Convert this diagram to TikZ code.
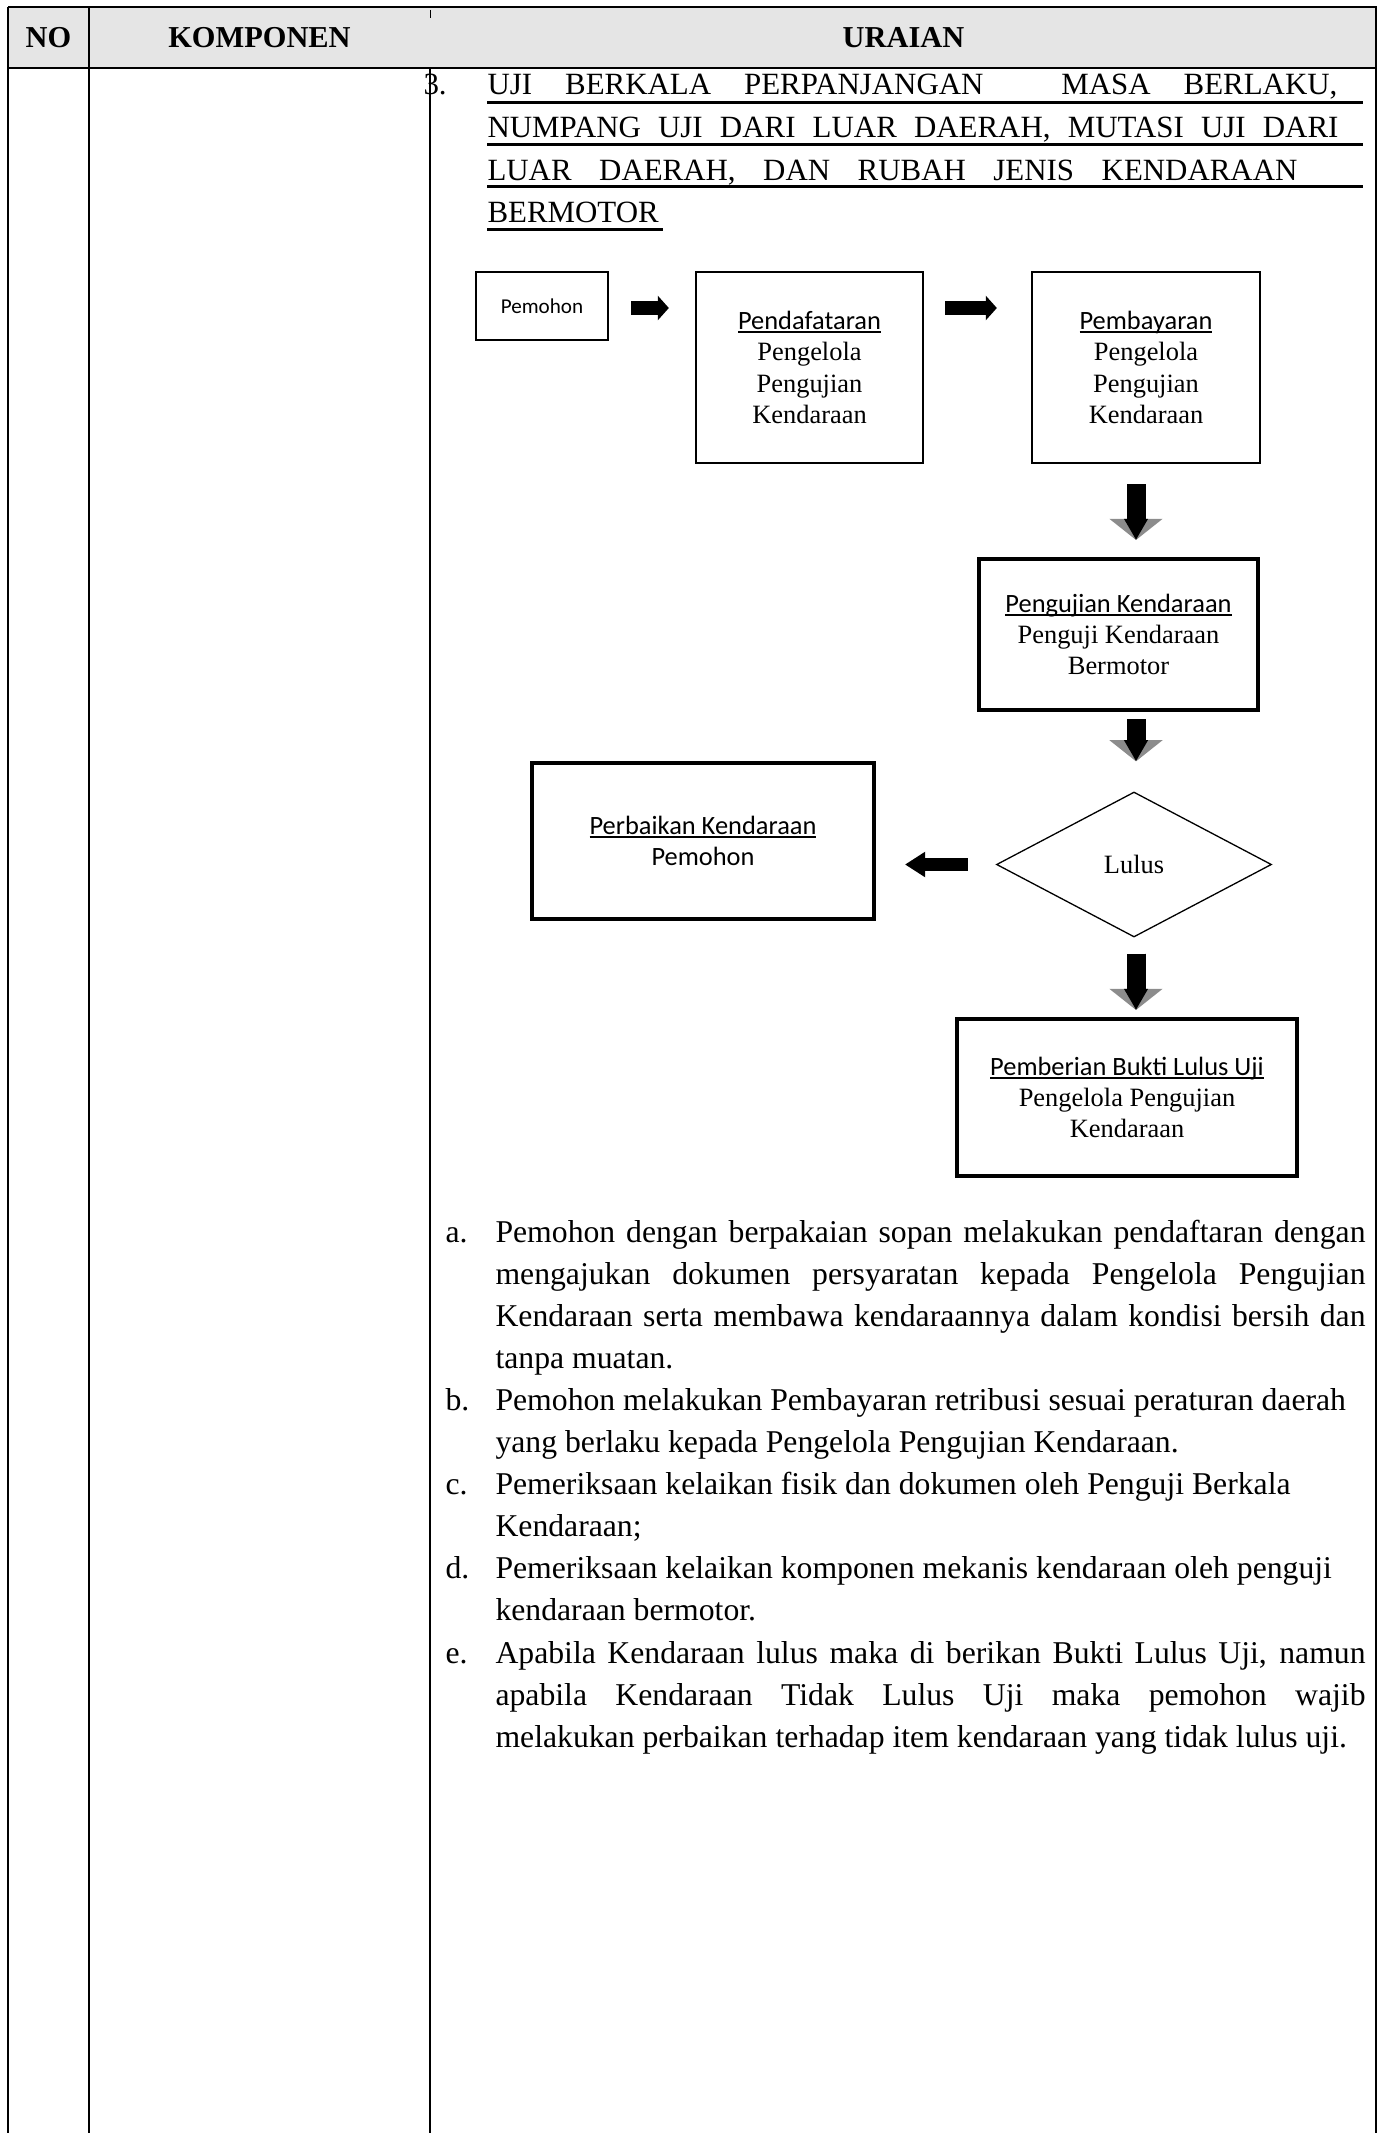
\documentclass[tikz,border=0pt]{standalone}
\usepackage{fontspec}
\setmainfont{Liberation Serif}
\newfontfamily\calibri{Carlito}
\usetikzlibrary{arrows.meta,shapes.geometric}
\newlength\px
\setlength\px{0.3785pt}
\newcommand\garis[1]{\setbox0\hbox{#1}\rlap{\rule[-1.5pt]{\wd0}{0.7pt}}\box0}
\newcommand\rata[1]{\makebox[870\px][s]{#1}}

\begin{document}
\begin{tikzpicture}[x=\px,y=-\px,
  tabel/.style={line width=2\px},
  kepala/.style={font=\fontsize{11.5}{13}\selectfont\bfseries},
  judul/.style={anchor=base west,inner sep=0pt,font=\fontsize{11.7}{14}\selectfont},
  isi/.style={anchor=base west,inner sep=0pt,font=\fontsize{12}{15.9}\selectfont},
  kotak/.style={draw,line width=2.3\px,align=center,inner sep=0pt,font=\fontsize{10}{11.9}\selectfont},
  tebal/.style={kotak,line width=4\px},
  kanan/.style={line width=5.3pt,-{Triangle[length=4.2pt,width=9.1pt]}},
  kiri/.style={line width=4.7pt,-{Triangle[length=7.6pt,width=9.1pt]}},
  turun/.style={line width=7.2pt,-{Triangle[length=8pt,width=19.7pt,color=black!45]},
    postaction={draw,line width=7.2pt,-{Triangle[length=8pt,width=8.5pt]}}}]
  \useasboundingbox(0,0)rectangle(1384,2133);
  \fill[black!10](8,7)rectangle(1377,68);
  \node[kepala](no)at(48.5,38){NO};
  \node[kepala](komponen)at(259.5,38){KOMPONEN};
  \node[kepala](uraian)at(903.5,38){URAIAN};
  \node[judul](nomor)at(423,95){3.};
  \node[judul](j1)at(487,95){\makebox[850\px][s]{UJI BERKALA PERPANJANGAN\hspace{45\px} MASA BERLAKU,}};
  \node[judul](j2)at(487,137.6){\makebox[851\px][s]{NUMPANG UJI DARI LUAR DAERAH, MUTASI UJI DARI}};
  \node[judul](j3)at(487,180.2){\makebox[810\px][s]{LUAR DAERAH, DAN RUBAH JENIS KENDARAAN}};
  \node[judul](j4)at(487,222.8){BERMOTOR};
  \foreach \y in {102.7,144.5,187}\draw[line width=3\px](487,\y)--(1363,\y);
  \draw[line width=3\px](487,229.5)--(663,229.5);
  \draw[tabel,line width=2.5\px](8,7)--(1377,7);
  \draw[tabel](8,68)--(1377,68);
  \draw[tabel](8,7)--(8,2133);
  \draw[tabel](89,7)--(89,2133);
  \draw[line width=1\px](430,10)--(430,18);
  \draw[tabel](430,68)--(430,2133);
  \draw[tabel](1376,7)--(1376,2133);
  \node[kotak,minimum width=132\px,minimum height=68\px,font=\fontsize{8}{10}\selectfont\calibri](pemohon)at(542,306){Pemohon};
  \node[kotak,minimum width=227\px,minimum height=191\px](daftar)at(809.5,367.5){{\calibri\garis{Pendafataran}}\\Pengelola\\Pengujian\\Kendaraan};
  \node[kotak,minimum width=228\px,minimum height=191\px](bayar)at(1146,367.5){{\calibri\garis{Pembayaran}}\\Pengelola\\Pengujian\\Kendaraan};
  \node[tebal,minimum width=279\px,minimum height=151\px](uji)at(1118.5,634.5){{\calibri\garis{Pengujian Kendaraan}}\\Penguji Kendaraan\\Bermotor};
  \node[diamond,draw,line width=1.3\px,minimum width=275\px,minimum height=145\px,inner sep=0pt,font=\fontsize{10}{12}\selectfont](lulus)at(1134,864.5){Lulus};
  \node[tebal,minimum width=342\px,minimum height=156\px,font=\fontsize{10}{11.9}\selectfont\calibri](perbaikan)at(703,841){\garis{Perbaikan Kendaraan}\\Pemohon};
  \node[tebal,minimum width=340\px,minimum height=157\px](bukti)at(1127,1097.5){{\calibri\garis{Pemberian Bukti Lulus Uji}}\\Pengelola Pengujian\\Kendaraan};
  \coordinate(baris)at(0,308);
  \coordinate(sumbu)at(1136,0);
  \draw[kanan,shorten <=22\px,shorten >=26\px](pemohon.east|-baris)--(daftar.west|-baris);
  \draw[kanan,shorten <=21\px,shorten >=34\px](daftar.east|-baris)--(bayar.west|-baris);
  \draw[turun,shorten <=20\px,shorten >=17\px](bayar.south-|sumbu)--(uji.north-|sumbu);
  \draw[turun,shorten <=7\px,shorten >=30\px](uji.south-|sumbu)--(lulus.north-|sumbu);
  \draw[kiri,shorten <=28\px,shorten >=29\px](lulus.west)--(lulus.west-|perbaikan.east);
  \draw[turun,shorten <=16\px,shorten >=7\px](lulus.south-|sumbu)--(bukti.north-|sumbu);
  \foreach \h/\k in {a/0,b/4,c/6,d/8,e/10}\node[isi](h\h)at(445,{1242+42.1*\k}){\h.};
  \node[isi](a1)at(495,1242){\rata{Pemohon dengan berpakaian sopan melakukan pendaftaran dengan}};
  \node[isi](a2)at(495,1284.1){\rata{mengajukan dokumen persyaratan kepada Pengelola Pengujian}};
  \node[isi](a3)at(495,1326.2){\rata{Kendaraan serta membawa kendaraannya dalam kondisi bersih dan}};
  \node[isi](a4)at(495,1368.3){tanpa muatan.};
  \node[isi](b1)at(495,1410.4){Pemohon melakukan Pembayaran retribusi sesuai peraturan daerah};
  \node[isi](b2)at(495,1452.5){yang berlaku kepada Pengelola Pengujian Kendaraan.};
  \node[isi](c1)at(495,1494.6){Pemeriksaan kelaikan fisik dan dokumen oleh Penguji Berkala};
  \node[isi](c2)at(495,1536.7){Kendaraan;};
  \node[isi](d1)at(495,1578.8){Pemeriksaan kelaikan komponen mekanis kendaraan oleh penguji};
  \node[isi](d2)at(495,1620.9){kendaraan bermotor.};
  \node[isi](e1)at(495,1663){\rata{Apabila Kendaraan lulus maka di berikan Bukti Lulus Uji, namun}};
  \node[isi](e2)at(495,1705.1){\rata{apabila Kendaraan Tidak Lulus Uji maka pemohon wajib}};
  \node[isi](e3)at(495,1747.2){melakukan perbaikan terhadap item kendaraan yang tidak lulus uji.};
\end{tikzpicture}
\end{document}
